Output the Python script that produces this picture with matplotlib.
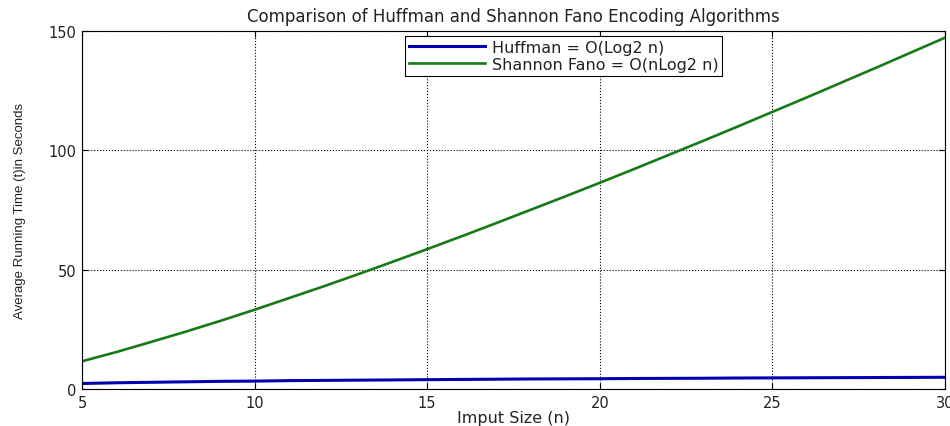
import matplotlib
matplotlib.use("Agg")
import matplotlib.pyplot as plt
from matplotlib import font_manager

# values
input_size = [5, 6, 7, 8, 9, 10, 11, 12, 13, 14, 15, 16, 17, 18, 19, 20,
              21, 22, 23, 24, 25, 26, 27, 28, 29, 30]
huffman_time = [2.3, 2.6, 2.8, 3.0, 3.2, 3.3, 3.5, 3.6, 3.7, 3.8, 3.9, 4.0, 4.1,
                4.2, 4.25, 4.3, 4.4, 4.45, 4.5, 4.6, 4.65, 4.7, 4.75, 4.8, 4.85, 4.9]
shannon_time = [11.6, 15.5, 19.7, 24.0, 28.5, 33.2, 38.1, 43.0, 48.1, 53.3, 58.6,
                64.0, 69.5, 75.1, 80.7, 86.4, 92.2, 98.1, 104.0, 110.0, 116.1,
                122.2, 128.4, 134.6, 140.9, 147.2]
x_ticks = [5, 10, 15, 20, 25, 30]
y_ticks = [0, 50, 100, 150]

plt.rcParams['font.family'] = ['DejaVu Sans']

# narrow font for the y label if it is there
names = {f.name for f in font_manager.fontManager.ttflist}
if 'Liberation Sans Narrow' in names:
    ylab_font, ylab_size = 'Liberation Sans Narrow', 11
else:
    ylab_font, ylab_size = 'Liberation Sans', 9.5

fig = plt.figure(figsize=(9.5, 4.27), dpi=100)
ax = fig.add_axes([0.0863, 0.0867, 0.9084, 0.8383])

ax.plot(input_size, huffman_time, color='#0000b0', linewidth=2.2, label='Huffman = O(Log2 n)')
ax.plot(input_size, shannon_time, color='#167a16', linewidth=1.9, label='Shannon Fano = O(nLog2 n)')

ax.set_xlim(5, 30)
ax.set_ylim(0, 150)
ax.set_xticks(x_ticks)
ax.set_yticks(y_ticks)
ax.tick_params(direction='in', length=4, top=True, right=True, labelsize=10.5, pad=4,
               labelcolor='#222222')
ax.grid(True, linestyle=':', color='black', linewidth=0.8)
for s in ax.spines.values():
    s.set_linewidth(0.8)

ax.set_title('Comparison of Huffman and Shannon Fano Encoding Algorithms', fontsize=12,
             pad=7, color='#222222')
ax.set_xlabel('Imput Size (n)', fontsize=11.5, labelpad=0, color='#222222')
ax.set_ylabel('Average Running Time (t)in Seconds', fontsize=ylab_size,
              family=ylab_font, labelpad=16, color='#222222')

leg = ax.legend(loc='upper left', bbox_to_anchor=(0.374, 0.986), fontsize=11.5,
                frameon=True, fancybox=False, framealpha=1, edgecolor='black',
                borderpad=0.25, labelspacing=0.1, handlelength=4.8, handletextpad=0.4,
                borderaxespad=0)
leg.get_frame().set_linewidth(0.8)
for t in leg.get_texts():
    t.set_color('#222222')

fig.savefig('out.png', dpi=100)
